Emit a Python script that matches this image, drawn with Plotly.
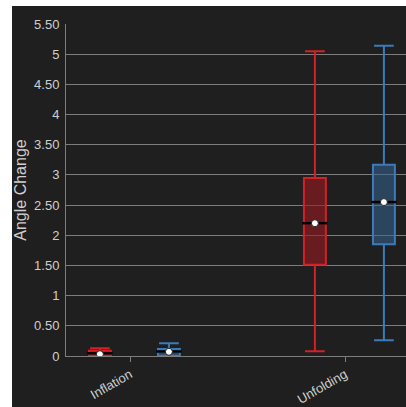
import plotly.graph_objects as go

# Categories and per-group box statistics
categories = ["Inflation", "Unfolding"]
series_names = ["Group A", "Group B"]

red_lower = [0.0, 0.08]
red_q1 = [0.005, 1.51]
red_median = [0.045, 2.20]
red_q3 = [0.085, 2.95]
red_upper = [0.13, 5.05]
red_mean = [0.03, 2.20]

blue_lower = [0.0, 0.26]
blue_q1 = [0.005, 1.85]
blue_median = [0.075, 2.55]
blue_q3 = [0.115, 3.17]
blue_upper = [0.21, 5.14]
blue_mean = [0.07, 2.55]

y_ticks = [0, 0.5, 1, 1.5, 2, 2.5, 3, 3.5, 4, 4.5, 5, 5.5]
y_tick_text = ["0", "0.50", "1", "1.50", "2", "2.50", "3", "3.50", "4", "4.50", "5", "5.50"]

BG = "#1f1f1f"
GRID = "#7d7d7d"
TEXT = "#cfcfcf"
FONT = "Liberation Sans, Arial, sans-serif"

W, H = 406, 407
ML, MR, MT, MB = 66, 0, 24, 51
plot_w = W - ML - MR
plot_h = H - MT - MB

cat_pos = list(range(len(categories)))
box_width = 0.102
offsets = [-0.14, 0.181]

styles = [
    dict(line="#d42026", fill="rgba(150,28,34,0.62)"),
    dict(line="#3b7bbb", fill="rgba(55,100,145,0.55)"),
]
stats = [
    (red_lower, red_q1, red_median, red_q3, red_upper, red_mean),
    (blue_lower, blue_q1, blue_median, blue_q3, blue_upper, blue_mean),
]

fig = go.Figure()
for name, st, off, (lo, q1, med, q3, up, mean) in zip(series_names, styles, offsets, stats):
    xs = [p + off for p in cat_pos]
    fig.add_trace(go.Box(
        name=name,
        x=xs,
        lowerfence=lo,
        q1=q1,
        median=med,
        q3=q3,
        upperfence=up,
        width=box_width,
        whiskerwidth=0.9,
        line=dict(color=st["line"], width=2),
        fillcolor=st["fill"],
        boxpoints=False,
        hoverinfo="skip",
    ))
    # median bar
    fig.add_trace(go.Scatter(
        x=xs, y=med, mode="markers",
        marker=dict(symbol="line-ew", size=18, line=dict(color="#000000", width=2.5)),
        hoverinfo="skip",
    ))
    # mean dot
    fig.add_trace(go.Scatter(
        x=xs, y=mean, mode="markers",
        marker=dict(symbol="circle", size=7, color="#ffffff", line=dict(color="#222222", width=1)),
        hoverinfo="skip",
    ))

x_left = -(130 - ML) / 215
x_right = x_left + plot_w / 215

# dark card behind the chart, leaving a thin white strip on the left and top
fig.add_shape(
    type="rect", xref="paper", yref="paper", layer="below",
    x0=(12 - ML) / plot_w, x1=1.05,
    y0=-0.3, y1=(H - MB - 6) / plot_h,
    fillcolor=BG, line=dict(width=0),
)

fig.update_layout(
    width=W, height=H,
    margin=dict(l=ML, r=MR, t=MT, b=MB),
    paper_bgcolor="#ffffff",
    plot_bgcolor=BG,
    showlegend=False,
    font=dict(family=FONT, size=13, color=TEXT),
    xaxis=dict(
        range=[x_left, x_right],
        tickvals=cat_pos,
        ticktext=categories,
        tickangle=-30,
        ticks="outside", ticklen=5, tickcolor=GRID, tickwidth=1,
        showgrid=False, zeroline=False,
        showline=True, linecolor=GRID, linewidth=1,
        tickfont=dict(size=13, color=TEXT),
    ),
    yaxis=dict(
        range=[0, 5.5],
        tickvals=y_ticks,
        ticktext=y_tick_text,
        showgrid=True, gridcolor=GRID, gridwidth=1,
        zeroline=False,
        showline=True, linecolor=GRID, linewidth=1,
        ticks="", ticklabelstandoff=3,
        tickfont=dict(size=13, color=TEXT),
        title=dict(text="Angle Change", font=dict(size=16, color=TEXT), standoff=3),
    ),
)

fig.write_html("out.html")
